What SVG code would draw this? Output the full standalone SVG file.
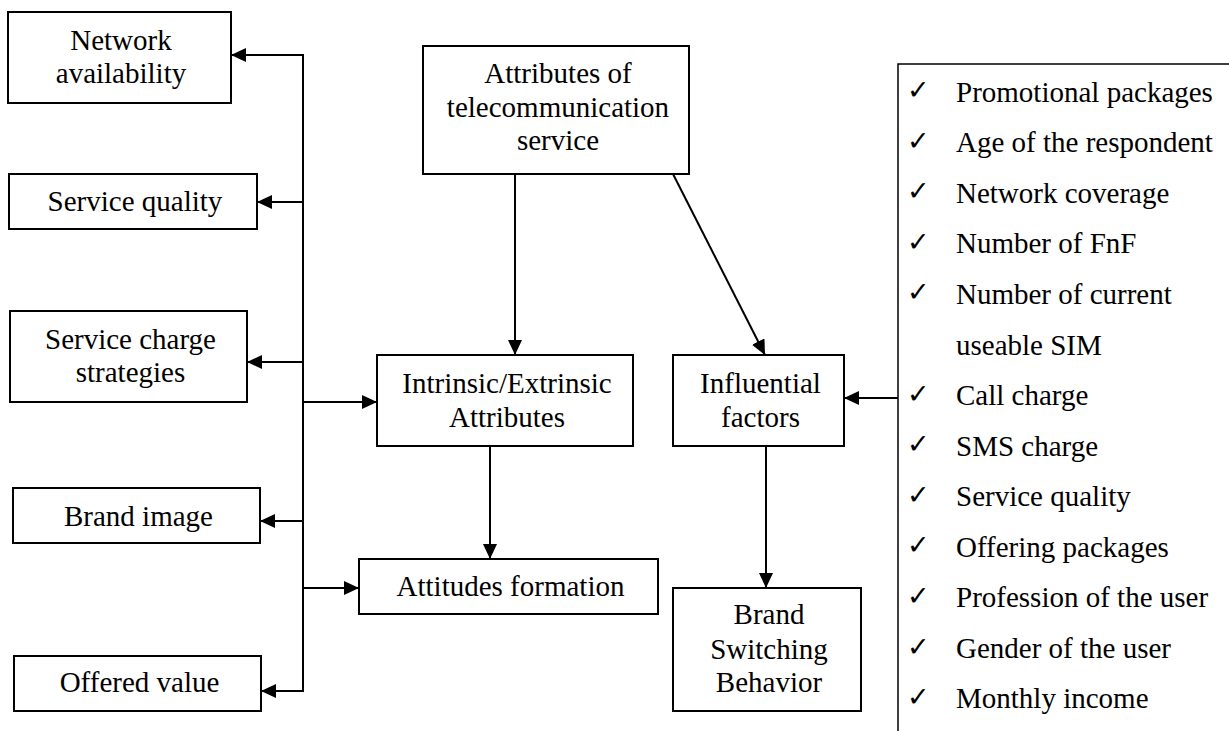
<svg xmlns="http://www.w3.org/2000/svg" width="1229" height="731" viewBox="0 0 1229 731">
<style>
.box{fill:#fff;stroke:#000;stroke-width:2}
.t{font-family:"Liberation Serif","Times New Roman",serif;font-size:29px;fill:#000;text-anchor:middle}
.l{font-family:"Liberation Serif","Times New Roman",serif;font-size:29px;fill:#000}
.ck{font-family:"DejaVu Sans",sans-serif;font-size:27px;fill:#000}
.c{stroke:#000;stroke-width:2;fill:none}
.p{stroke:#000;stroke-width:1.5;fill:none}
</style>
<defs>
<marker id="ah" markerUnits="userSpaceOnUse" markerWidth="15" markerHeight="14" refX="15" refY="7" orient="auto">
<path d="M0,0 L15,7 L0,14 z" fill="#000"/>
</marker>
</defs>
<g id="connectors">
<line class="c" x1="303" y1="54" x2="303" y2="692"/>
<line class="c" x1="303" y1="55" x2="231" y2="55" marker-end="url(#ah)"/>
<line class="c" x1="303" y1="202" x2="257" y2="202" marker-end="url(#ah)"/>
<line class="c" x1="303" y1="362" x2="247" y2="362" marker-end="url(#ah)"/>
<line class="c" x1="303" y1="521" x2="260" y2="521" marker-end="url(#ah)"/>
<line class="c" x1="303" y1="691" x2="261" y2="691" marker-end="url(#ah)"/>
<line class="c" x1="303" y1="402" x2="377" y2="402" marker-end="url(#ah)"/>
<line class="c" x1="303" y1="588" x2="359" y2="588" marker-end="url(#ah)"/>
<line class="c" x1="515" y1="174" x2="515" y2="355" marker-end="url(#ah)"/>
<line class="c" x1="673" y1="174" x2="765" y2="355" marker-end="url(#ah)"/>
<line class="c" x1="490" y1="446" x2="490" y2="559" marker-end="url(#ah)"/>
<line class="c" x1="766" y1="446" x2="766" y2="588" marker-end="url(#ah)"/>
<line class="c" x1="898" y1="398" x2="844" y2="398" marker-end="url(#ah)"/>
</g>
<g id="network-availability">
<rect class="box" x="8" y="12" width="223" height="91"/>
<text class="t" x="121" y="50">Network</text>
<text class="t" x="121" y="83">availability</text>
</g>
<g id="service-quality">
<rect class="box" x="9" y="174" width="248" height="55"/>
<text class="t" x="135" y="211">Service quality</text>
</g>
<g id="service-charge-strategies">
<rect class="box" x="10" y="311" width="237" height="91"/>
<text class="t" x="130.5" y="349">Service charge</text>
<text class="t" x="130.5" y="382">strategies</text>
</g>
<g id="brand-image">
<rect class="box" x="13" y="488" width="247" height="55"/>
<text class="t" x="138.5" y="526">Brand image</text>
</g>
<g id="offered-value">
<rect class="box" x="14" y="656" width="247" height="55"/>
<text class="t" x="139.5" y="692">Offered value</text>
</g>
<g id="attributes-telecom">
<rect class="box" x="423" y="46" width="266" height="128"/>
<text class="t" x="558" y="83">Attributes of</text>
<text class="t" x="558" y="117">telecommunication</text>
<text class="t" x="558" y="150">service</text>
</g>
<g id="intrinsic-extrinsic">
<rect class="box" x="377" y="355" width="256" height="91"/>
<text class="t" x="507" y="393">Intrinsic/Extrinsic</text>
<text class="t" x="507" y="427">Attributes</text>
</g>
<g id="influential-factors">
<rect class="box" x="673" y="355" width="171" height="91"/>
<text class="t" x="760.5" y="393">Influential</text>
<text class="t" x="760.5" y="427">factors</text>
</g>
<g id="attitudes-formation">
<rect class="box" x="359" y="559" width="299" height="55"/>
<text class="t" x="510.5" y="596">Attitudes formation</text>
</g>
<g id="brand-switching">
<rect class="box" x="673" y="588" width="188" height="123"/>
<text class="t" x="769" y="624">Brand</text>
<text class="t" x="769" y="659">Switching</text>
<text class="t" x="769" y="692">Behavior</text>
</g>
<g id="factors-list">
<path class="p" d="M898,731 L898,64 L1229,64"/>
<g class="ck">
<text x="907" y="99">✓</text>
<text x="907" y="150">✓</text>
<text x="907" y="200">✓</text>
<text x="907" y="251">✓</text>
<text x="907" y="301">✓</text>
<text x="907" y="403">✓</text>
<text x="907" y="453">✓</text>
<text x="907" y="504">✓</text>
<text x="907" y="554">✓</text>
<text x="907" y="605">✓</text>
<text x="907" y="656">✓</text>
<text x="907" y="706">✓</text>
</g>
<text class="l" x="956" y="102">Promotional packages</text>
<text class="l" x="956" y="152">Age of the respondent</text>
<text class="l" x="956" y="203">Network coverage</text>
<text class="l" x="956" y="253">Number of FnF</text>
<text class="l" x="956" y="304">Number of current</text>
<text class="l" x="956" y="355">useable SIM</text>
<text class="l" x="956" y="405">Call charge</text>
<text class="l" x="956" y="456">SMS charge</text>
<text class="l" x="956" y="506">Service quality</text>
<text class="l" x="956" y="557">Offering packages</text>
<text class="l" x="956" y="607">Profession of the user</text>
<text class="l" x="956" y="658">Gender of the user</text>
<text class="l" x="956" y="708">Monthly income</text>
</g>
</svg>
